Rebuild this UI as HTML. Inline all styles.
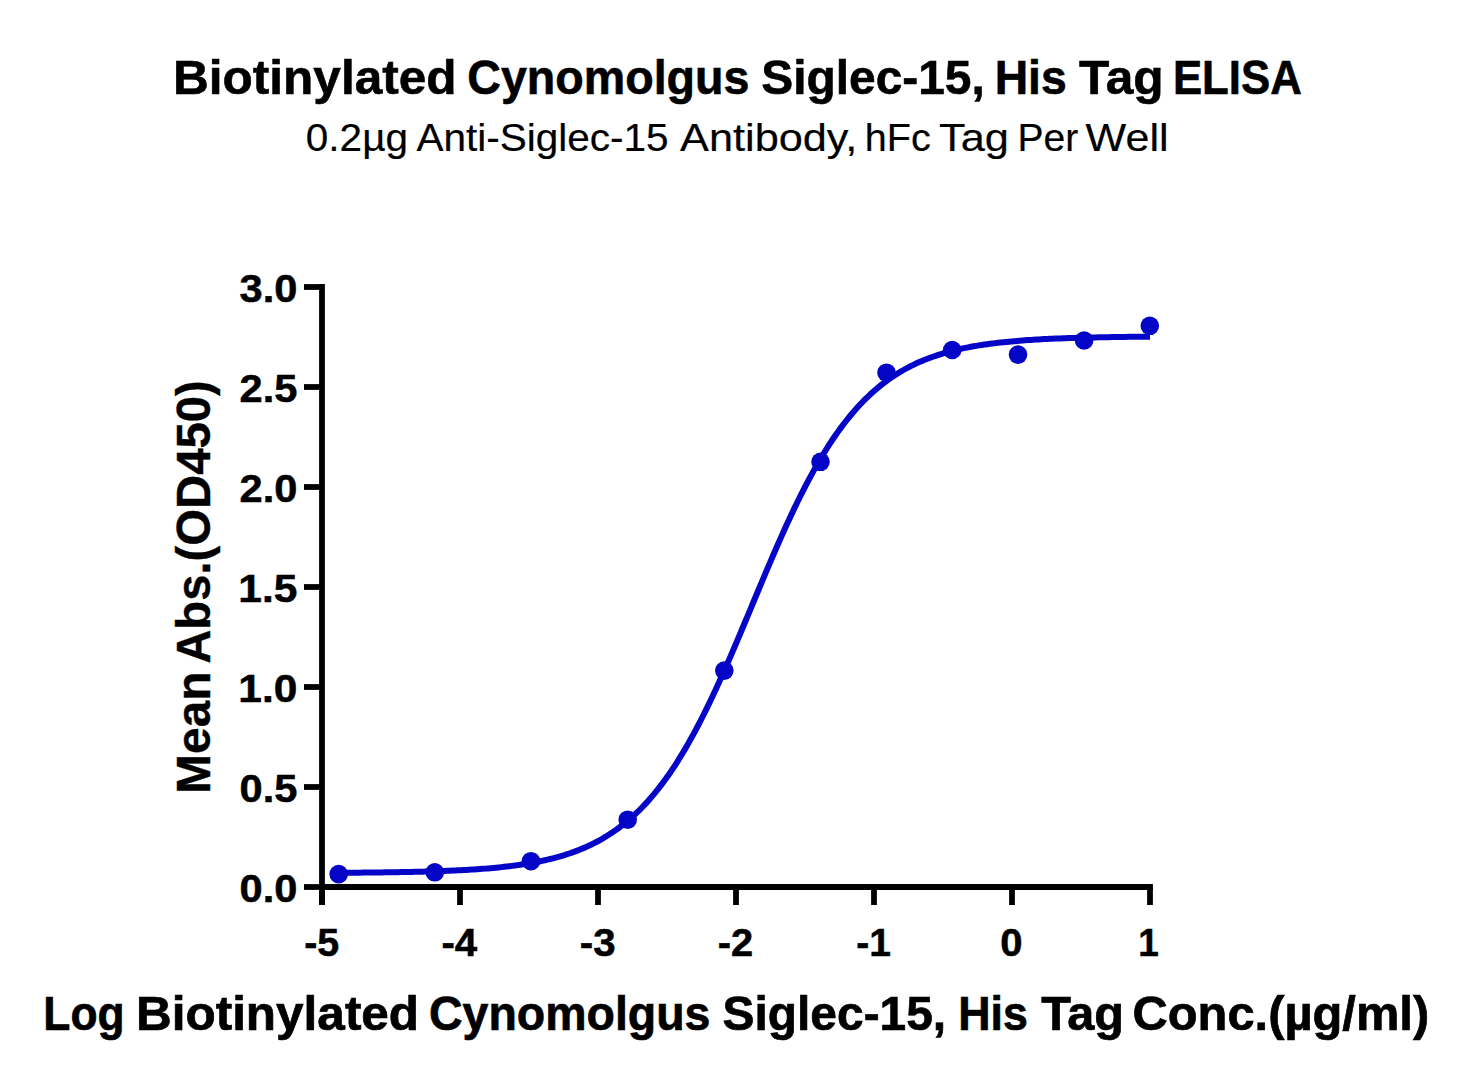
<!DOCTYPE html>
<html><head><meta charset="utf-8"><title>ELISA</title>
<style>html,body{margin:0;padding:0;background:#fff;overflow:hidden;}svg{display:block;}</style></head>
<body>
<svg width="1474" height="1086" viewBox="0 0 1474 1086">
<rect width="1474" height="1086" fill="#fff"/>
<line x1="322" y1="284.1" x2="322" y2="905" stroke="#000" stroke-width="5.8"/>
<line x1="319.1" y1="887" x2="1152.9" y2="887" stroke="#000" stroke-width="5.8"/>
<line x1="304" y1="887.0" x2="322" y2="887.0" stroke="#000" stroke-width="5.8"/>
<line x1="304" y1="787.0" x2="322" y2="787.0" stroke="#000" stroke-width="5.8"/>
<line x1="304" y1="687.0" x2="322" y2="687.0" stroke="#000" stroke-width="5.8"/>
<line x1="304" y1="587.0" x2="322" y2="587.0" stroke="#000" stroke-width="5.8"/>
<line x1="304" y1="487.0" x2="322" y2="487.0" stroke="#000" stroke-width="5.8"/>
<line x1="304" y1="387.0" x2="322" y2="387.0" stroke="#000" stroke-width="5.8"/>
<line x1="304" y1="287.0" x2="322" y2="287.0" stroke="#000" stroke-width="5.8"/>
<line x1="322" y1="887" x2="322" y2="905" stroke="#000" stroke-width="5.8"/>
<line x1="460" y1="887" x2="460" y2="905" stroke="#000" stroke-width="5.8"/>
<line x1="598" y1="887" x2="598" y2="905" stroke="#000" stroke-width="5.8"/>
<line x1="736" y1="887" x2="736" y2="905" stroke="#000" stroke-width="5.8"/>
<line x1="874" y1="887" x2="874" y2="905" stroke="#000" stroke-width="5.8"/>
<line x1="1012" y1="887" x2="1012" y2="905" stroke="#000" stroke-width="5.8"/>
<line x1="1150" y1="887" x2="1150" y2="905" stroke="#000" stroke-width="5.8"/>
<polyline points="338.50,872.79 341.21,872.77 343.93,872.75 346.64,872.74 349.35,872.72 352.07,872.70 354.78,872.68 357.50,872.65 360.21,872.63 362.92,872.61 365.64,872.58 368.35,872.55 371.07,872.53 373.78,872.50 376.49,872.47 379.21,872.43 381.92,872.40 384.64,872.37 387.35,872.33 390.06,872.29 392.78,872.25 395.49,872.20 398.21,872.16 400.92,872.11 403.63,872.06 406.35,872.01 409.06,871.96 411.78,871.90 414.49,871.84 417.20,871.77 419.92,871.71 422.63,871.64 425.35,871.56 428.06,871.49 430.77,871.41 433.49,871.32 436.20,871.23 438.92,871.14 441.63,871.04 444.35,870.94 447.06,870.83 449.77,870.72 452.49,870.60 455.20,870.47 457.92,870.34 460.63,870.21 463.34,870.06 466.06,869.91 468.77,869.75 471.49,869.59 474.20,869.41 476.91,869.23 479.63,869.04 482.34,868.84 485.06,868.63 487.77,868.41 490.48,868.18 493.20,867.93 495.91,867.68 498.63,867.41 501.34,867.13 504.05,866.84 506.77,866.53 509.48,866.20 512.20,865.87 514.91,865.51 517.62,865.14 520.34,864.75 523.05,864.34 525.77,863.91 528.48,863.46 531.20,862.99 533.91,862.50 536.62,861.98 539.34,861.44 542.05,860.87 544.77,860.28 547.48,859.66 550.19,859.00 552.91,858.32 555.62,857.61 558.34,856.86 561.05,856.08 563.76,855.26 566.48,854.40 569.19,853.51 571.91,852.57 574.62,851.59 577.33,850.57 580.05,849.49 582.76,848.37 585.48,847.20 588.19,845.98 590.90,844.70 593.62,843.37 596.33,841.98 599.05,840.52 601.76,839.01 604.47,837.43 607.19,835.78 609.90,834.05 612.62,832.26 615.33,830.39 618.04,828.45 620.76,826.42 623.47,824.31 626.19,822.11 628.90,819.83 631.62,817.46 634.33,814.99 637.04,812.43 639.76,809.77 642.47,807.01 645.19,804.15 647.90,801.18 650.61,798.10 653.33,794.92 656.04,791.62 658.76,788.21 661.47,784.69 664.18,781.05 666.90,777.29 669.61,773.41 672.33,769.41 675.04,765.30 677.75,761.06 680.47,756.69 683.18,752.21 685.90,747.61 688.61,742.88 691.32,738.04 694.04,733.08 696.75,728.00 699.47,722.81 702.18,717.50 704.89,712.09 707.61,706.57 710.32,700.95 713.04,695.23 715.75,689.41 718.46,683.51 721.18,677.52 723.89,671.45 726.61,665.31 729.32,659.10 732.04,652.82 734.75,646.50 737.46,640.12 740.18,633.71 742.89,627.26 745.61,620.78 748.32,614.29 751.03,607.78 753.75,601.27 756.46,594.77 759.18,588.27 761.89,581.80 764.60,575.35 767.32,568.94 770.03,562.56 772.75,556.24 775.46,549.97 778.17,543.76 780.89,537.62 783.60,531.56 786.32,525.57 789.03,519.67 791.74,513.86 794.46,508.14 797.17,502.52 799.89,497.01 802.60,491.60 805.31,486.30 808.03,481.11 810.74,476.04 813.46,471.08 816.17,466.24 818.89,461.53 821.60,456.93 824.31,452.45 827.03,448.09 829.74,443.86 832.46,439.75 835.17,435.75 837.88,431.88 840.60,428.13 843.31,424.49 846.03,420.97 848.74,417.57 851.45,414.28 854.17,411.10 856.88,408.03 859.60,405.06 862.31,402.20 865.02,399.45 867.74,396.79 870.45,394.23 873.17,391.77 875.88,389.40 878.59,387.12 881.31,384.93 884.02,382.83 886.74,380.80 889.45,378.86 892.16,376.99 894.88,375.20 897.59,373.49 900.31,371.84 903.02,370.26 905.73,368.75 908.45,367.30 911.16,365.91 913.88,364.57 916.59,363.30 919.31,362.08 922.02,360.91 924.73,359.79 927.45,358.72 930.16,357.70 932.88,356.72 935.59,355.79 938.30,354.89 941.02,354.04 943.73,353.22 946.45,352.44 949.16,351.69 951.87,350.98 954.59,350.30 957.30,349.65 960.02,349.03 962.73,348.44 965.44,347.87 968.16,347.33 970.87,346.82 973.59,346.32 976.30,345.85 979.01,345.41 981.73,344.98 984.44,344.57 987.16,344.18 989.87,343.81 992.58,343.45 995.30,343.12 998.01,342.79 1000.73,342.49 1003.44,342.19 1006.15,341.91 1008.87,341.65 1011.58,341.39 1014.30,341.15 1017.01,340.92 1019.73,340.70 1022.44,340.49 1025.15,340.29 1027.87,340.09 1030.58,339.91 1033.30,339.74 1036.01,339.57 1038.72,339.41 1041.44,339.26 1044.15,339.12 1046.87,338.98 1049.58,338.85 1052.29,338.73 1055.01,338.61 1057.72,338.50 1060.44,338.39 1063.15,338.29 1065.86,338.19 1068.58,338.10 1071.29,338.01 1074.01,337.92 1076.72,337.84 1079.43,337.77 1082.15,337.69 1084.86,337.62 1087.58,337.56 1090.29,337.49 1093.00,337.43 1095.72,337.38 1098.43,337.32 1101.15,337.27 1103.86,337.22 1106.58,337.17 1109.29,337.13 1112.00,337.08 1114.72,337.04 1117.43,337.00 1120.15,336.97 1122.86,336.93 1125.57,336.90 1128.29,336.87 1131.00,336.84 1133.72,336.81 1136.43,336.78 1139.14,336.75 1141.86,336.73 1144.57,336.70 1147.29,336.68 1150.00,336.66" fill="none" stroke="#0505c8" stroke-width="6" stroke-linejoin="round"/>
<circle cx="338.7" cy="874.1" r="9.3" fill="#0505c8"/>
<circle cx="434.8" cy="872.3" r="9.3" fill="#0505c8"/>
<circle cx="531.0" cy="861.2" r="9.3" fill="#0505c8"/>
<circle cx="627.7" cy="819.7" r="9.3" fill="#0505c8"/>
<circle cx="724.3" cy="670.6" r="9.3" fill="#0505c8"/>
<circle cx="820.5" cy="461.8" r="9.3" fill="#0505c8"/>
<circle cx="886.5" cy="372.7" r="9.3" fill="#0505c8"/>
<circle cx="952.2" cy="350.0" r="9.3" fill="#0505c8"/>
<circle cx="1018.0" cy="354.6" r="9.3" fill="#0505c8"/>
<circle cx="1084.1" cy="340.5" r="9.3" fill="#0505c8"/>
<circle cx="1149.8" cy="325.8" r="9.3" fill="#0505c8"/>
<text x="173.00" y="93.80" textLength="283.60" lengthAdjust="spacingAndGlyphs" style="font-family:'Liberation Sans',Arial,sans-serif;font-weight:bold;font-size:48.80px" stroke="#000" stroke-width="0.6">Biotinylated</text>
<text x="467.29" y="93.80" textLength="282.14" lengthAdjust="spacingAndGlyphs" style="font-family:'Liberation Sans',Arial,sans-serif;font-weight:bold;font-size:48.80px" stroke="#000" stroke-width="0.6">Cynomolgus</text>
<text x="761.22" y="93.80" textLength="223.57" lengthAdjust="spacingAndGlyphs" style="font-family:'Liberation Sans',Arial,sans-serif;font-weight:bold;font-size:48.80px" stroke="#000" stroke-width="0.6">Siglec-15,</text>
<text x="994.65" y="93.80" textLength="72.09" lengthAdjust="spacingAndGlyphs" style="font-family:'Liberation Sans',Arial,sans-serif;font-weight:bold;font-size:48.80px" stroke="#000" stroke-width="0.6">His</text>
<text x="1079.00" y="93.80" textLength="84.60" lengthAdjust="spacingAndGlyphs" style="font-family:'Liberation Sans',Arial,sans-serif;font-weight:bold;font-size:48.80px" stroke="#000" stroke-width="0.6">Tag</text>
<text x="1172.91" y="93.80" textLength="128.92" lengthAdjust="spacingAndGlyphs" style="font-family:'Liberation Sans',Arial,sans-serif;font-weight:bold;font-size:48.80px" stroke="#000" stroke-width="0.6">ELISA</text>
<text x="305.87" y="151.00" textLength="102.12" lengthAdjust="spacingAndGlyphs" style="font-family:'Liberation Sans',Arial,sans-serif;font-weight:normal;font-size:39.30px" stroke="#000" stroke-width="0.2">0.2µg</text>
<text x="416.40" y="151.00" textLength="252.19" lengthAdjust="spacingAndGlyphs" style="font-family:'Liberation Sans',Arial,sans-serif;font-weight:normal;font-size:39.30px" stroke="#000" stroke-width="0.2">Anti-Siglec-15</text>
<text x="680.10" y="151.00" textLength="177.23" lengthAdjust="spacingAndGlyphs" style="font-family:'Liberation Sans',Arial,sans-serif;font-weight:normal;font-size:39.30px" stroke="#000" stroke-width="0.2">Antibody,</text>
<text x="864.78" y="151.00" textLength="65.95" lengthAdjust="spacingAndGlyphs" style="font-family:'Liberation Sans',Arial,sans-serif;font-weight:normal;font-size:39.30px" stroke="#000" stroke-width="0.2">hFc</text>
<text x="939.00" y="151.00" textLength="69.91" lengthAdjust="spacingAndGlyphs" style="font-family:'Liberation Sans',Arial,sans-serif;font-weight:normal;font-size:39.30px" stroke="#000" stroke-width="0.2">Tag</text>
<text x="1017.42" y="151.00" textLength="60.73" lengthAdjust="spacingAndGlyphs" style="font-family:'Liberation Sans',Arial,sans-serif;font-weight:normal;font-size:39.30px" stroke="#000" stroke-width="0.2">Per</text>
<text x="1085.60" y="151.00" textLength="82.96" lengthAdjust="spacingAndGlyphs" style="font-family:'Liberation Sans',Arial,sans-serif;font-weight:normal;font-size:39.30px" stroke="#000" stroke-width="0.2">Well</text>
<text x="43.33" y="1030.00" textLength="81.18" lengthAdjust="spacingAndGlyphs" style="font-family:'Liberation Sans',Arial,sans-serif;font-weight:bold;font-size:48.80px" stroke="#000" stroke-width="0.7">Log</text>
<text x="135.96" y="1030.00" textLength="283.14" lengthAdjust="spacingAndGlyphs" style="font-family:'Liberation Sans',Arial,sans-serif;font-weight:bold;font-size:48.80px" stroke="#000" stroke-width="0.7">Biotinylated</text>
<text x="429.00" y="1030.00" textLength="281.43" lengthAdjust="spacingAndGlyphs" style="font-family:'Liberation Sans',Arial,sans-serif;font-weight:bold;font-size:48.80px" stroke="#000" stroke-width="0.7">Cynomolgus</text>
<text x="722.52" y="1030.00" textLength="223.67" lengthAdjust="spacingAndGlyphs" style="font-family:'Liberation Sans',Arial,sans-serif;font-weight:bold;font-size:48.80px" stroke="#000" stroke-width="0.7">Siglec-15,</text>
<text x="958.25" y="1030.00" textLength="69.63" lengthAdjust="spacingAndGlyphs" style="font-family:'Liberation Sans',Arial,sans-serif;font-weight:bold;font-size:48.80px" stroke="#000" stroke-width="0.7">His</text>
<text x="1041.20" y="1030.00" textLength="82.83" lengthAdjust="spacingAndGlyphs" style="font-family:'Liberation Sans',Arial,sans-serif;font-weight:bold;font-size:48.80px" stroke="#000" stroke-width="0.7">Tag</text>
<text x="1132.50" y="1030.00" textLength="296.69" lengthAdjust="spacingAndGlyphs" style="font-family:'Liberation Sans',Arial,sans-serif;font-weight:bold;font-size:48.80px" stroke="#000" stroke-width="0.7">Conc.(µg/ml)</text>
<text transform="translate(209.80,793.70) rotate(-90)" x="0" y="0" textLength="122.08" lengthAdjust="spacingAndGlyphs" style="font-family:'Liberation Sans',Arial,sans-serif;font-weight:bold;font-size:47.80px" stroke="#000" stroke-width="0.4">Mean</text>
<text transform="translate(209.80,663.79) rotate(-90)" x="0" y="0" textLength="283.63" lengthAdjust="spacingAndGlyphs" style="font-family:'Liberation Sans',Arial,sans-serif;font-weight:bold;font-size:47.80px" stroke="#000" stroke-width="0.4">Abs.(OD450)</text>
<text x="239.51" y="302.10" textLength="57.88" lengthAdjust="spacingAndGlyphs" style="font-family:'Liberation Sans',Arial,sans-serif;font-weight:bold;font-size:38.20px" stroke="#000" stroke-width="0.5">3.0</text>
<text x="239.51" y="402.10" textLength="57.88" lengthAdjust="spacingAndGlyphs" style="font-family:'Liberation Sans',Arial,sans-serif;font-weight:bold;font-size:38.20px" stroke="#000" stroke-width="0.5">2.5</text>
<text x="239.51" y="502.10" textLength="57.88" lengthAdjust="spacingAndGlyphs" style="font-family:'Liberation Sans',Arial,sans-serif;font-weight:bold;font-size:38.20px" stroke="#000" stroke-width="0.5">2.0</text>
<text x="238.38" y="602.10" textLength="59.04" lengthAdjust="spacingAndGlyphs" style="font-family:'Liberation Sans',Arial,sans-serif;font-weight:bold;font-size:38.20px" stroke="#000" stroke-width="0.5">1.5</text>
<text x="238.38" y="702.10" textLength="59.04" lengthAdjust="spacingAndGlyphs" style="font-family:'Liberation Sans',Arial,sans-serif;font-weight:bold;font-size:38.20px" stroke="#000" stroke-width="0.5">1.0</text>
<text x="239.51" y="802.10" textLength="57.88" lengthAdjust="spacingAndGlyphs" style="font-family:'Liberation Sans',Arial,sans-serif;font-weight:bold;font-size:38.20px" stroke="#000" stroke-width="0.5">0.5</text>
<text x="239.51" y="902.10" textLength="57.88" lengthAdjust="spacingAndGlyphs" style="font-family:'Liberation Sans',Arial,sans-serif;font-weight:bold;font-size:38.20px" stroke="#000" stroke-width="0.5">0.0</text>
<text x="304.17" y="955.60" textLength="35.02" lengthAdjust="spacingAndGlyphs" style="font-family:'Liberation Sans',Arial,sans-serif;font-weight:bold;font-size:38.30px" stroke="#000" stroke-width="0.5">-5</text>
<text x="441.45" y="955.60" textLength="35.82" lengthAdjust="spacingAndGlyphs" style="font-family:'Liberation Sans',Arial,sans-serif;font-weight:bold;font-size:38.30px" stroke="#000" stroke-width="0.5">-4</text>
<text x="579.85" y="955.60" textLength="35.77" lengthAdjust="spacingAndGlyphs" style="font-family:'Liberation Sans',Arial,sans-serif;font-weight:bold;font-size:38.30px" stroke="#000" stroke-width="0.5">-3</text>
<text x="717.76" y="955.60" textLength="35.45" lengthAdjust="spacingAndGlyphs" style="font-family:'Liberation Sans',Arial,sans-serif;font-weight:bold;font-size:38.30px" stroke="#000" stroke-width="0.5">-2</text>
<text x="856.18" y="955.60" textLength="34.70" lengthAdjust="spacingAndGlyphs" style="font-family:'Liberation Sans',Arial,sans-serif;font-weight:bold;font-size:38.30px" stroke="#000" stroke-width="0.5">-1</text>
<text x="1000.15" y="955.60" textLength="22.32" lengthAdjust="spacingAndGlyphs" style="font-family:'Liberation Sans',Arial,sans-serif;font-weight:bold;font-size:38.30px" stroke="#000" stroke-width="0.5">0</text>
<text x="1138.27" y="955.60" textLength="20.53" lengthAdjust="spacingAndGlyphs" style="font-family:'Liberation Sans',Arial,sans-serif;font-weight:bold;font-size:38.30px" stroke="#000" stroke-width="0.5">1</text>
</svg>
</body></html>
